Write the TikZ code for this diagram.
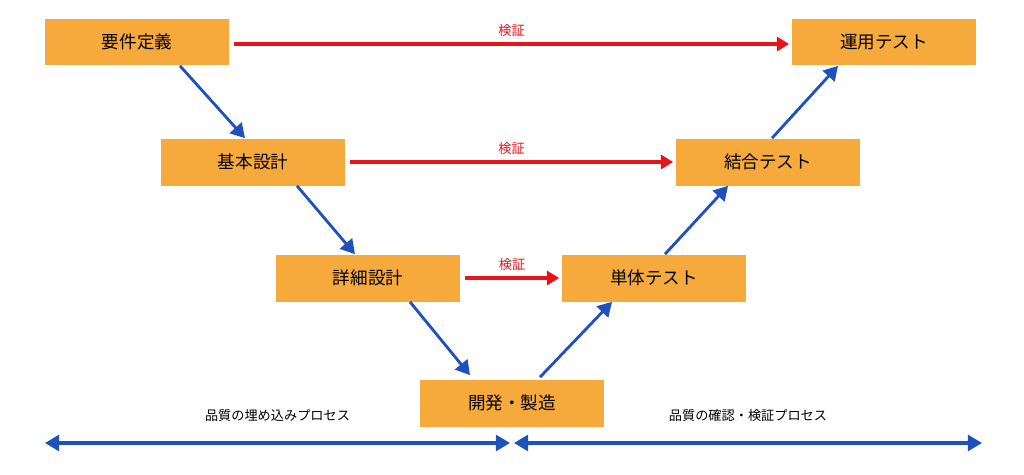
\documentclass[tikz,border=0pt]{standalone}
\usepackage{fontspec}
\setmainfont{Noto Sans CJK JP}
\usetikzlibrary{arrows.meta, positioning}
\definecolor{boxorange}{RGB}{246, 170, 60}
\definecolor{checkred}{RGB}{232, 20, 27}
\definecolor{flowblue}{RGB}{30, 80, 190}
\tikzset{
  phase/.style={fill=boxorange, minimum width=3.7cm, minimum height=0.94cm, inner sep=0pt, font=\fontsize{10}{12}\selectfont},
  verify/.style={-{Triangle[length=7pt, width=8pt]}, line width=2pt, checkred},
  flow/.style={-{Triangle[length=8pt, width=9pt]}, line width=1.6pt, flowblue},
  span/.style={{Triangle[length=8pt, width=9pt]}-{Triangle[length=8pt, width=9pt]}, line width=1.8pt, flowblue},
  tag/.style={font=\fontsize{7.5}{9}\selectfont}
}

\begin{document}
\begin{tikzpicture}[x=0.02cm, y=-0.02cm]
  \useasboundingbox (0,0) rectangle (1024,474);

  % Phases
  \node[phase] (req) at (137, 42) {要件定義};
  \node[phase] (ops) at (884, 42) {運用テスト};
  \node[phase] (basic) at (253, 162) {基本設計};
  \node[phase] (integ) at (768, 162) {結合テスト};
  \node[phase] (detail) at (368, 278) {詳細設計};
  \node[phase] (unit) at (654, 278) {単体テスト};
  \node[phase] (dev) at (512, 403) {開発・製造};

  % Verification links
  \draw[verify] ([xshift=0.08cm, yshift=-0.04cm]req.east) -- node[above, tag, checkred] {検証} ([xshift=-0.04cm, yshift=-0.04cm]ops.west);
  \draw[verify] ([xshift=0.08cm]basic.east) -- node[above, tag, checkred] {検証} ([xshift=-0.04cm]integ.west);
  \draw[verify] ([xshift=0.08cm]detail.east) -- node[above, tag, checkred] {検証} ([xshift=-0.04cm]unit.west);

  % Down the V
  \draw[flow] ([xshift=0.86cm]req.south) -- ([xshift=-0.16cm]basic.north);
  \draw[flow] ([xshift=0.88cm]basic.south) -- ([xshift=-0.26cm]detail.north);
  \draw[flow] ([xshift=0.84cm]detail.south) -- ([xshift=-0.84cm, yshift=0.08cm]dev.north);
  % Up the V
  \draw[flow] ([xshift=0.56cm, yshift=0.04cm]dev.north) -- ([xshift=-0.84cm]unit.south);
  \draw[flow] ([xshift=0.22cm]unit.north) -- ([xshift=-0.8cm]integ.south);
  \draw[flow] ([xshift=0.08cm]integ.north) -- ([xshift=-0.92cm]ops.south);

  % Process spans
  \coordinate (lspan) at (45, 443);
  \coordinate (mspan) at (512, 443);
  \coordinate (rspan) at (982, 443);
  \draw[span] (lspan) -- node[above=0.28cm, tag, text=black] {品質の埋め込みプロセス} ([xshift=-0.04cm]mspan);
  \draw[span] ([xshift=0.04cm]mspan) -- node[above=0.28cm, tag, text=black] {品質の確認・検証プロセス} (rspan);
\end{tikzpicture}
\end{document}
